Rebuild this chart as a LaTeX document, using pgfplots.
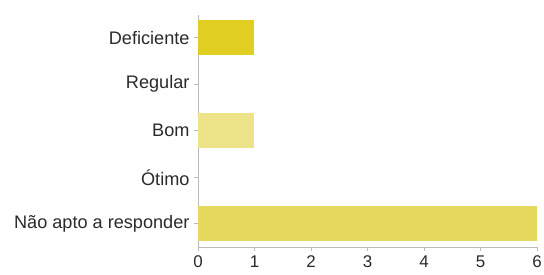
\documentclass[border=0pt]{standalone}
\usepackage{fontspec}
\setmainfont{Liberation Sans}
\usepackage{pgfplots}
\pgfplotsset{compat=1.18}
\definecolor{cA}{HTML}{E0CF22}
\definecolor{cB}{HTML}{EDE48A}
\definecolor{cC}{HTML}{E5DA5F}
\definecolor{axc}{HTML}{BBBBBB}
\definecolor{txt}{HTML}{2A2A2A}
\begin{document}
\begin{tikzpicture}
\useasboundingbox (-198bp,-28bp) rectangle (346bp,247bp);
\begin{axis}[
  at={(0,0)}, anchor=south west,
  scale only axis, width=339bp, height=232.5bp,
  xbar, bar width=0.75, bar shift=0pt,
  xmin=0, xmax=6, ymin=-0.5, ymax=4.5,
  xtick={0,1,2,3,4,5,6},
  ytick={0,1,2,3,4},
  yticklabels={Não apto a responder,Ótimo,Bom,Regular,Deficiente},
  axis lines*=left,
  axis line style={axc, line width=0.8pt},
  tick style={axc, line width=0.6pt},
  tick align=outside,
  major tick length=4bp,
  /pgf/number format/assume math mode=true,
  tick label style={text=txt},
  yticklabel style={font=\fontsize{18.2}{20}\selectfont, xshift=-1bp},
  xticklabel style={font=\fontsize{17}{19}\selectfont, yshift=-1bp},
  enlargelimits=false,
  clip=false,
]
\addplot[fill=cA, draw=none] coordinates {(1,4)};
\addplot[fill=cB, draw=none] coordinates {(1,2)};
\addplot[fill=cC, draw=none] coordinates {(6,0)};
\end{axis}
\end{tikzpicture}
\end{document}
